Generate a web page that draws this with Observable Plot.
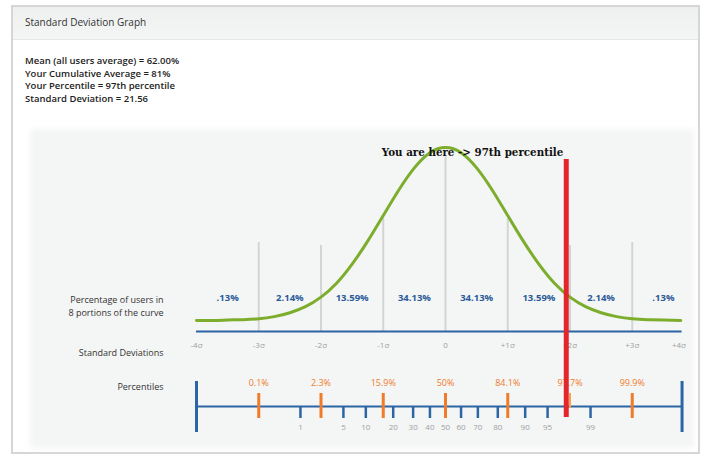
<!DOCTYPE html>
<html>
<head>
<meta charset="utf-8">
<script src="https://cdn.jsdelivr.net/npm/d3@7"></script>
<script src="https://cdn.jsdelivr.net/npm/@observablehq/plot@0.6"></script>
<style>
  html, body { margin: 0; padding: 0; background: #fff; }
  body { width: 704px; height: 458px; position: relative; overflow: hidden; font-family: "Open Sans", "DejaVu Sans", sans-serif; }
  #frame { position: absolute; left: 11px; top: 5px; width: 685px; height: 445px; border: 2px solid #d6d6d6; background: #fff; }
  #header { position: absolute; left: 0; top: 0; right: 0; height: 32px; background: linear-gradient(#eef0f0, #f4f5f5); border-bottom: 1px solid #e6e6e6; }
  #header span { position: absolute; left: 12px; top: 8px; font-size: 10px; color: #333; }
  #stats { position: absolute; left: 25px; top: 55px; font-size: 9.5px; line-height: 12.6px; font-weight: 600; color: #222; }
  #panel { position: absolute; left: 34px; top: 133px; width: 656px; height: 311px; background: #f4f5f5; box-shadow: 0 0 6px 4px #f4f5f5; }
  #chart { position: absolute; left: 0; top: 130px; }
</style>
</head>
<body>
<div id="frame"><div id="header"><span id="title"></span></div></div>
<div id="stats"></div>
<div id="panel"></div>
<div id="chart"></div>
<script>
// ---- data ----
const title = "Standard Deviation Graph";
const statLines = [
  "Mean (all users average) = 62.00%",
  "Your Cumulative Average = 81%",
  "Your Percentile = 97th percentile",
  "Standard Deviation = 21.56"
];
// bell curve (x in standard deviations, y = curve height)
const curveX = [-4, -3.75, -3.5, -3.25, -3, -2.75, -2.5, -2.25, -2, -1.75, -1.5, -1.25, -1, -0.75, -0.5, -0.25, 0,
                0.25, 0.5, 0.75, 1, 1.25, 1.5, 1.75, 2, 2.25, 2.5, 2.75, 3, 3.25, 3.5, 3.78];
const curveY = [0.000, 0.000, 0.001, 0.002, 0.004, 0.009, 0.018, 0.032, 0.054, 0.086, 0.130, 0.183, 0.242, 0.301, 0.352, 0.387, 0.399,
                0.387, 0.352, 0.301, 0.242, 0.183, 0.130, 0.086, 0.054, 0.032, 0.018, 0.009, 0.004, 0.002, 0.001, 0.000];
const gridSigma = [-3, -2, -1, 0, 1, 2, 3];
const gridTop = [0.180, 0.173, 0.235, 0.378, 0.235, 0.173, 0.180];
const bandCenter = [-3.5, -2.5, -1.5, -0.5, 0.5, 1.5, 2.5, 3.5];
const bandPct = [".13%", "2.14%", "13.59%", "34.13%", "34.13%", "13.59%", "2.14%", ".13%"];
const sigmaTickPos = [-4, -3, -2, -1, 0, 1, 2, 3, 3.75];
const sigmaTickLabel = ["-4σ", "-3σ", "-2σ", "-1σ", "0", "+1σ", "+2σ", "+3σ", "+4σ"];
const orangeSigma = [-3, -2, -1, 0, 1, 2, 3];
const orangeLabel = ["0.1%", "2.3%", "15.9%", "50%", "84.1%", "97.7%", "99.9%"];
const percentileTick = ["1", "5", "10", "20", "30", "40", "50", "60", "70", "80", "90", "95", "99"];
const percentileZ = [-2.33, -1.64, -1.28, -0.84, -0.52, -0.25, 0, 0.25, 0.52, 0.84, 1.28, 1.64, 2.33];
const axisStart = -4, axisEnd = 3.8;
const youSigma = 1.94;
const youLabel = "You are here -> 97th percentile";
const rowLabels = ["Percentage of users in", "8 portions of the curve"];

// ---- page text ----
document.getElementById("title").textContent = title;
document.getElementById("stats").innerHTML = statLines.map(s => `<div>${s}</div>`).join("");

// ---- row positions (in curve-height units) ----
const BAND_Y = 0.053, AXIS_Y = -0.0254, SIG_Y = -0.0577;
const OLAB_Y = -0.1453, PAX_Y = -0.1984, OT_TOP = -0.1684, OT_BOT = -0.2261;
const BT_BOT = -0.2261, BLAB_Y = -0.2468, END_TOP = -0.1407, END_BOT = -0.2584;
const RED_TOP = 0.3714, RED_BOT = -0.2238, NOTE_Y = 0.388;

const blue = "#2b65a5", orange = "#f07b2b", green = "#7cad2c";
const curve = curveX.map((x, i) => ({x, y: curveY[i]}));
const grid = gridSigma.map((x, i) => ({x, top: gridTop[i]}));
const bands = bandCenter.map((x, i) => ({x, t: bandPct[i]}));
const sig = sigmaTickPos.map((x, i) => ({x, t: sigmaTickLabel[i]}));
const orng = orangeSigma.map((x, i) => ({x, t: orangeLabel[i]}));
const ptk = percentileZ.map((x, i) => ({x, t: percentileTick[i]}));
const font = "Open Sans, DejaVu Sans, sans-serif";

const chart = Plot.plot({
  width: 704,
  height: 328,
  style: {background: "transparent", overflow: "visible"},
  x: {domain: [-4, 4], range: [196, 694], axis: null},
  y: {domain: [0, 0.4], range: [190, 16.6], axis: null},
  marks: [
    Plot.ruleX(grid, {x: "x", y1: AXIS_Y, y2: "top", stroke: "#d4d4d4", strokeWidth: 2}),
    Plot.line(curve, {x: "x", y: "y", curve: "natural", stroke: green, strokeWidth: 3}),
    Plot.ruleY([{a: axisStart, b: axisEnd}], {x1: "a", x2: "b", y: AXIS_Y, stroke: blue, strokeWidth: 2}),
    Plot.text(bands, {x: "x", y: BAND_Y, text: "t", fill: "#2a5a98", fontSize: 9.5, fontWeight: "bold", fontFamily: font}),
    Plot.text(sig, {x: "x", y: SIG_Y, text: "t", fill: "#a0a0a0", fontSize: 8, fontFamily: font}),
    Plot.text([rowLabels[0]], {x: axisStart, y: BAND_Y - 0.007, dx: -33, text: d => d, textAnchor: "end", fill: "#333", fontSize: 9, fontFamily: font}),
    Plot.text([rowLabels[1]], {x: axisStart, y: BAND_Y - 0.037, dx: -33, text: d => d, textAnchor: "end", fill: "#333", fontSize: 9, fontFamily: font}),
    Plot.text(["Standard Deviations"], {x: axisStart, y: SIG_Y - 0.018, dx: -33, text: d => d, textAnchor: "end", fill: "#333", fontSize: 9, fontFamily: font}),
    Plot.text(["Percentiles"], {x: axisStart, y: OLAB_Y - 0.009, dx: -33, text: d => d, textAnchor: "end", fill: "#333", fontSize: 9, fontFamily: font}),
    // percentile axis
    Plot.ruleY([{a: axisStart, b: axisEnd}], {x1: "a", x2: "b", y: PAX_Y, stroke: blue, strokeWidth: 2}),
    Plot.ruleX([axisStart, axisEnd], {y1: END_TOP, y2: END_BOT, stroke: blue, strokeWidth: 3}),
    Plot.ruleX(ptk, {x: "x", y1: PAX_Y, y2: BT_BOT, stroke: blue, strokeWidth: 2.5}),
    Plot.text(ptk, {x: "x", y: BLAB_Y, text: "t", fill: "#a0a0a0", fontSize: 8, fontFamily: font}),
    Plot.ruleX(orng.filter(d => d.x !== 2), {x: "x", y1: OT_TOP, y2: OT_BOT, stroke: orange, strokeWidth: 3}),
    Plot.ruleX(orng.filter(d => d.x === 2), {x: "x", y1: OT_TOP, y2: PAX_Y - 0.004, stroke: "#f5a24e", strokeWidth: 2}),
    Plot.text(orng, {x: "x", y: OLAB_Y, text: "t", fill: orange, fontSize: 9, fontFamily: font}),
    // you are here
    Plot.ruleX([youSigma], {y1: RED_TOP, y2: RED_BOT, stroke: "#e3262b", strokeWidth: 5}),
    Plot.text([youLabel], {x: youSigma, y: NOTE_Y, dx: -3, text: d => d, textAnchor: "end", fill: "#111", fontSize: 10.3, fontWeight: "bold", fontFamily: "DejaVu Serif, serif"})
  ]
});
document.getElementById("chart").appendChild(chart);
</script>
</body>
</html>
